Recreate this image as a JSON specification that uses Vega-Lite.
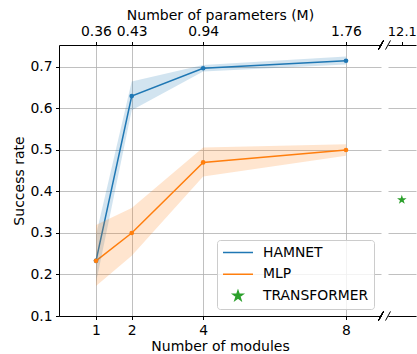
{
  "$schema": "https://vega.github.io/schema/vega-lite/v6.json",
  "padding": {"left": 12, "top": 8, "right": 0, "bottom": 0},
  "spacing": 7,
  "bounds": "flush",
  "datasets": {
    "curves": [
      {"model": "HAMNET", "modules": 1, "rate": 0.233, "lo": 0.18, "hi": 0.295},
      {"model": "HAMNET", "modules": 2, "rate": 0.63, "lo": 0.596, "hi": 0.665},
      {"model": "HAMNET", "modules": 4, "rate": 0.697, "lo": 0.689, "hi": 0.705},
      {"model": "HAMNET", "modules": 8, "rate": 0.715, "lo": 0.706, "hi": 0.725},
      {"model": "MLP", "modules": 1, "rate": 0.233, "lo": 0.172, "hi": 0.319},
      {"model": "MLP", "modules": 2, "rate": 0.30, "lo": 0.245, "hi": 0.36},
      {"model": "MLP", "modules": 4, "rate": 0.47, "lo": 0.436, "hi": 0.506},
      {"model": "MLP", "modules": 8, "rate": 0.50, "lo": 0.486, "hi": 0.514}
    ],
    "transformer": [
      {"model": "TRANSFORMER", "params": 12.1, "rate": 0.38}
    ]
  },
  "hconcat": [
    {
      "width": 322,
      "height": 271,
      "layer": [
        {
          "data": {"name": "curves"},
          "layer": [
            {
              "mark": {"type": "line", "strokeWidth": 1.5},
              "encoding": {
                "x": {"field": "modules", "type": "quantitative", "title": "Number of modules",
                  "scale": {"domain": [-0.036, 8.98], "nice": false, "zero": false},
                  "axis": {"orient": "bottom", "values": [1, 2, 4, 8], "grid": true, "title": "Number of modules"}},
                "y": {"field": "rate", "type": "quantitative", "title": "Success rate",
                  "scale": {"domain": [0.1, 0.753], "nice": false, "zero": false},
                  "axis": {"values": [0.1, 0.2, 0.3, 0.4, 0.5, 0.6, 0.7], "format": ".1f", "grid": true, "title": "Success rate"}},
                "color": {"field": "model", "type": "nominal",
                  "scale": {"domain": ["HAMNET", "MLP", "TRANSFORMER"], "range": ["#1f77b4", "#ff7f0e", "#2ca02c"]},
                  "legend": {
                    "orient": "bottom-right",
                    "offset": 7,
                    "title": null,
                    "symbolType": "stroke",
                    "symbolSize": 900,
                    "symbolStrokeWidth": 1.5,
                    "clipHeight": 15,
                    "labelFontSize": 13.9,
                    "labelColor": "#000",
                    "labelOffset": 9,
                    "rowPadding": 6.7,
                    "padding": 5,
                    "fillColor": "rgba(255,255,255,0.8)",
                    "strokeColor": "#cccccc",
                    "cornerRadius": 3,
                    "encode": {
                      "symbols": {
                        "update": {
                          "shape": {"signal": "datum.value === 'TRANSFORMER' ? 'M0,-1L0.2245,-0.309L0.951,-0.309L0.363,0.118L0.588,0.809L0,0.382L-0.588,0.809L-0.363,0.118L-0.951,-0.309L-0.2245,-0.309Z' : 'stroke'"},
                          "size": {"signal": "datum.value === 'TRANSFORMER' ? 100 : 900"},
                          "fill": {"signal": "datum.value === 'TRANSFORMER' ? '#2ca02c' : 'transparent'"},
                          "stroke": {"signal": "datum.value === 'TRANSFORMER' ? 'transparent' : (datum.value === 'HAMNET' ? '#1f77b4' : '#ff7f0e')"},
                          "strokeWidth": {"value": 1.5},
                          "opacity": {"value": 1}
                        }
                      }
                    }
                  }}
              }
            },
            {
              "mark": {"type": "area", "opacity": 0.2},
              "encoding": {
                "x": {"field": "modules", "type": "quantitative", "title": "Number of modules"},
                "y": {"field": "lo", "type": "quantitative", "title": "Success rate"},
                "y2": {"field": "hi"},
                "color": {"field": "model", "type": "nominal", "legend": null}
              }
            },
            {
              "mark": {"type": "point", "filled": true, "size": 22, "opacity": 1},
              "encoding": {
                "x": {"field": "modules", "type": "quantitative", "title": "Number of modules"},
                "y": {"field": "rate", "type": "quantitative", "title": "Success rate"},
                "color": {"field": "model", "type": "nominal", "legend": null}
              }
            },
            {
              "mark": {"type": "rule", "color": "#000", "strokeWidth": 1, "clip": false},
              "encoding": {
                "x": {"datum": 8.91, "type": "quantitative"},
                "x2": {"datum": 9.05},
                "y": {"datum": 0.742, "type": "quantitative"},
                "y2": {"datum": 0.764}
              }
            },
            {
              "mark": {"type": "rule", "color": "#000", "strokeWidth": 1, "clip": false},
              "encoding": {
                "x": {"datum": 8.91, "type": "quantitative"},
                "x2": {"datum": 9.05},
                "y": {"datum": 0.089, "type": "quantitative"},
                "y2": {"datum": 0.111}
              }
            }
          ]
        },
        {
          "data": {"name": "curves"},
          "transform": [{"filter": "datum.model === 'HAMNET'"}],
          "mark": {"type": "point", "opacity": 0},
          "encoding": {
            "x": {"field": "modules", "type": "quantitative",
              "scale": {"domain": [-0.036, 8.98], "nice": false, "zero": false},
              "axis": {"orient": "top", "values": [1, 2, 4, 8], "grid": false,
                "title": "Number of parameters (M)", "titlePadding": 2,
                "labelExpr": "datum.value == 1 ? '0.36' : datum.value == 2 ? '0.43' : datum.value == 4 ? '0.94' : '1.76'"}}
          }
        }
      ],
      "resolve": {"scale": {"x": "independent"}}
    },
    {
      "width": 28,
      "height": 271,
      "layer": [
        {
          "data": {"name": "transformer"},
          "layer": [
            {
              "mark": {"type": "point", "filled": true, "size": 100, "opacity": 1,
                "shape": "M0,-1L0.2245,-0.309L0.951,-0.309L0.363,0.118L0.588,0.809L0,0.382L-0.588,0.809L-0.363,0.118L-0.951,-0.309L-0.2245,-0.309Z"},
              "encoding": {
                "x": {"field": "params", "type": "quantitative",
                  "scale": {"domain": [11.6, 12.614], "nice": false, "zero": false},
                  "axis": {"orient": "bottom", "labels": false, "ticks": false, "grid": false, "title": null}},
                "y": {"field": "rate", "type": "quantitative",
                  "scale": {"domain": [0.1, 0.753], "nice": false, "zero": false},
                  "axis": {"values": [0.1, 0.2, 0.3, 0.4, 0.5, 0.6, 0.7], "labels": false, "ticks": false, "domain": false, "grid": true, "title": null}},
                "color": {"field": "model", "type": "nominal",
                  "scale": {"domain": ["HAMNET", "MLP", "TRANSFORMER"], "range": ["#1f77b4", "#ff7f0e", "#2ca02c"]},
                  "legend": null}
              }
            },
            {
              "mark": {"type": "rule", "color": "#000", "strokeWidth": 1, "clip": false},
              "encoding": {
                "x": {"datum": 11.51, "type": "quantitative"},
                "x2": {"datum": 11.69},
                "y": {"datum": 0.742, "type": "quantitative"},
                "y2": {"datum": 0.764}
              }
            },
            {
              "mark": {"type": "rule", "color": "#000", "strokeWidth": 1, "clip": false},
              "encoding": {
                "x": {"datum": 11.51, "type": "quantitative"},
                "x2": {"datum": 11.69},
                "y": {"datum": 0.089, "type": "quantitative"},
                "y2": {"datum": 0.111}
              }
            }
          ]
        },
        {
          "data": {"name": "transformer"},
          "mark": {"type": "point", "opacity": 0},
          "encoding": {
            "x": {"field": "params", "type": "quantitative",
              "scale": {"domain": [11.6, 12.614], "nice": false, "zero": false},
              "axis": {"orient": "top", "values": [12.1], "format": ".1f", "grid": false, "title": null, "labelFontSize": 13}}
          }
        }
      ],
      "resolve": {"scale": {"x": "independent"}}
    }
  ],
  "resolve": {"scale": {"color": "independent"}},
  "config": {
    "font": "DejaVu Sans",
    "view": {"stroke": null},
    "axis": {
      "domainColor": "#000",
      "domainWidth": 1,
      "tickColor": "#000",
      "tickWidth": 1,
      "tickSize": 3.5,
      "labelPadding": 3.5,
      "labelFont": "DejaVu Sans",
      "labelFontSize": 13.9,
      "labelColor": "#000",
      "titleFont": "DejaVu Sans",
      "titleFontSize": 14,
      "titleFontWeight": "normal",
      "titleColor": "#000",
      "titlePadding": 3,
      "gridColor": "#b0b0b0",
      "gridWidth": 0.8
    },
    "legend": {"labelFont": "DejaVu Sans"}
  }
}
